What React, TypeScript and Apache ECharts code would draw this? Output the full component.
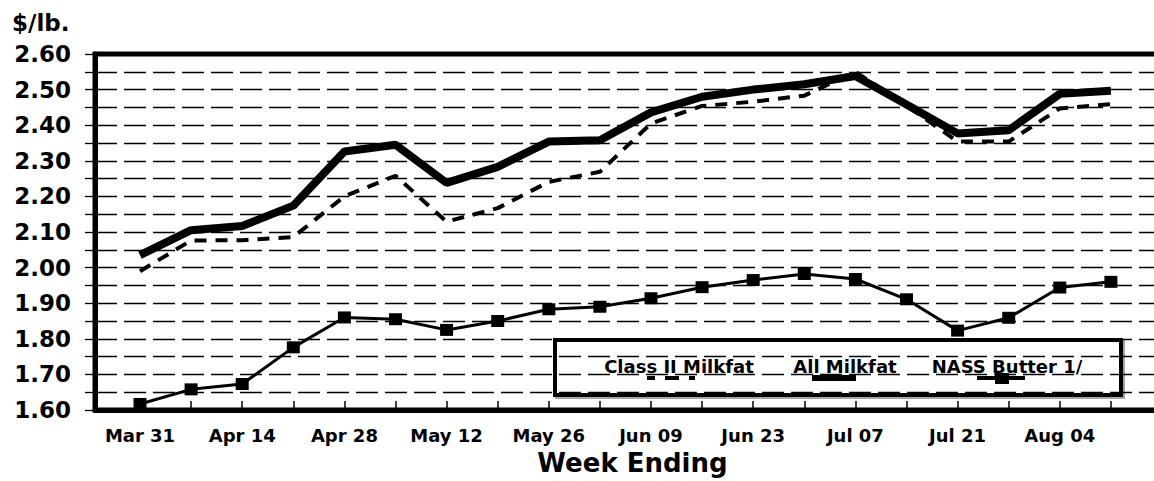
import React, { useEffect, useRef } from "react";
import * as echarts from "echarts";

const weeks = [
  "Mar 31", "Apr 07", "Apr 14", "Apr 21", "Apr 28", "May 05", "May 12", "May 19", "May 26", "Jun 02",
  "Jun 09", "Jun 16", "Jun 23", "Jun 30", "Jul 07", "Jul 14", "Jul 21", "Jul 28", "Aug 04", "Aug 11",
];
const allMilkfat = [2.035, 2.105, 2.117, 2.174, 2.326, 2.345, 2.238, 2.283, 2.354, 2.358, 2.436, 2.48, 2.5, 2.515, 2.538, 2.458, 2.377, 2.386, 2.488, 2.497];
const classII = [1.99, 2.076, 2.077, 2.086, 2.2, 2.258, 2.129, 2.167, 2.241, 2.269, 2.405, 2.454, 2.466, 2.483, 2.55, 2.455, 2.354, 2.354, 2.447, 2.459];
const nassButter = [1.617, 1.658, 1.673, 1.776, 1.86, 1.855, 1.825, 1.85, 1.883, 1.89, 1.914, 1.945, 1.965, 1.982, 1.968, 1.911, 1.823, 1.859, 1.944, 1.96];
const labelWeeks = [0, 2, 4, 6, 8, 10, 12, 14, 16, 18];
const seriesNames = ["Class II Milkfat", "All Milkfat", "NASS Butter 1/"];

const FONT = "DejaVu Sans";

export default function App() {
  const ref = useRef<HTMLDivElement>(null);
  useEffect(() => {
    if (!ref.current) return;
    const chart = echarts.init(ref.current, null, { renderer: "svg" });
    const toPairs = (arr: number[]) => arr.map((v, i) => [i, v]);
    const step = 51.1;
    const gridLeft = 95;
    const gridWidth = 1075;
    const xMin = -(140 - gridLeft) / step;
    const xMax = xMin + gridWidth / step;
    chart.setOption({
      animation: false,
      backgroundColor: "#fff",
      title: {
        text: "$/lb.",
        left: 7,
        top: 6,
        textStyle: { fontFamily: FONT, fontWeight: "bold", fontSize: 23, color: "#000" },
      },
      grid: {
        left: gridLeft,
        top: 54,
        width: gridWidth,
        height: 356,
        outerBoundsMode: "none",
        containLabel: false,
        show: true,
        borderColor: "#000",
        borderWidth: 5,
        backgroundColor: "transparent",
      },
      xAxis: {
        type: "value",
        min: xMin,
        max: xMax,
        name: "Week Ending",
        nameLocation: "middle",
        nameGap: 40,
        nameTextStyle: { fontFamily: FONT, fontWeight: "bold", fontSize: 26, color: "#000" },
        axisLine: { show: true, onZero: false, lineStyle: { color: "#000", width: 5 } },
        axisTick: {
          show: true,
          inside: true,
          length: 9,
          customValues: weeks.map((_, i) => i),
          lineStyle: { color: "#000", width: 1.5 },
        },
        axisLabel: {
          show: true,
          customValues: labelWeeks,
          formatter: (v: number) => weeks[Math.round(v)] ?? "",
          margin: 16,
          fontFamily: FONT,
          fontWeight: "bold",
          fontSize: 18,
          color: "#000",
        },
        splitLine: { show: false },
      },
      yAxis: {
        type: "value",
        min: 1.6,
        max: 2.6,
        interval: 0.05,
        axisLine: { show: true, onZero: false, lineStyle: { color: "#000", width: 5 } },
        axisTick: { show: true, length: 10, lineStyle: { color: "#000", width: 1.3 } },
        axisLabel: {
          margin: 24,
          fontFamily: FONT,
          fontWeight: "bold",
          fontSize: 23,
          color: "#000",
          formatter: (v: number) => (Math.round(v * 100) % 10 === 0 ? v.toFixed(2) : ""),
        },
        splitLine: { show: true, lineStyle: { color: "#000", width: 1.3, type: [22, 7] } },
      },
      series: [
        {
          name: seriesNames[0],
          type: "line",
          data: toPairs(classII),
          symbol: "none",
          lineStyle: { color: "#000", width: 4, type: [12, 9] },
          z: 3,
        },
        {
          name: seriesNames[1],
          type: "line",
          data: toPairs(allMilkfat),
          symbol: "none",
          lineStyle: { color: "#000", width: 8 },
          z: 2,
        },
        {
          name: seriesNames[2],
          type: "line",
          data: toPairs(nassButter),
          symbol: "rect",
          symbolSize: [13, 12],
          itemStyle: { color: "#000" },
          lineStyle: { color: "#000", width: 3 },
          z: 4,
        },
      ],
      graphic: [
        {
          type: "group",
          z: 100,
          children: [
            {
              type: "rect",
              shape: { x: 555, y: 340, width: 566, height: 55 },
              style: { fill: "#fff", stroke: "#000", lineWidth: 4, shadowColor: "rgba(0,0,0,0.35)", shadowOffsetX: 2, shadowOffsetY: 2, shadowBlur: 1 },
            },
            {
              type: "text",
              x: 679,
              y: 366,
              style: { text: seriesNames[0], fill: "#000", font: `bold 18px "${FONT}"`, textAlign: "center", textVerticalAlign: "middle" },
            },
            {
              type: "line",
              shape: { x1: 647, y1: 378, x2: 695, y2: 378 },
              style: { stroke: "#000", lineWidth: 4, lineDash: [8, 10, 14, 10] },
            },
            {
              type: "text",
              x: 845,
              y: 366,
              style: { text: seriesNames[1], fill: "#000", font: `bold 18px "${FONT}"`, textAlign: "center", textVerticalAlign: "middle" },
            },
            {
              type: "line",
              shape: { x1: 812, y1: 378, x2: 856, y2: 378 },
              style: { stroke: "#000", lineWidth: 6 },
            },
            {
              type: "text",
              x: 1007,
              y: 366,
              style: { text: seriesNames[2], fill: "#000", font: `bold 18px "${FONT}"`, textAlign: "center", textVerticalAlign: "middle" },
            },
            {
              type: "line",
              shape: { x1: 977, y1: 378, x2: 1025, y2: 378 },
              style: { stroke: "#000", lineWidth: 4 },
            },
            {
              type: "rect",
              shape: { x: 995, y: 373, width: 14, height: 11 },
              style: { fill: "#000" },
            },
          ],
        },
      ],
    });
    return () => chart.dispose();
  }, []);
  return <div ref={ref} style={{ position: "fixed", left: 0, top: 0, width: 1154, height: 481 }} />;
}
